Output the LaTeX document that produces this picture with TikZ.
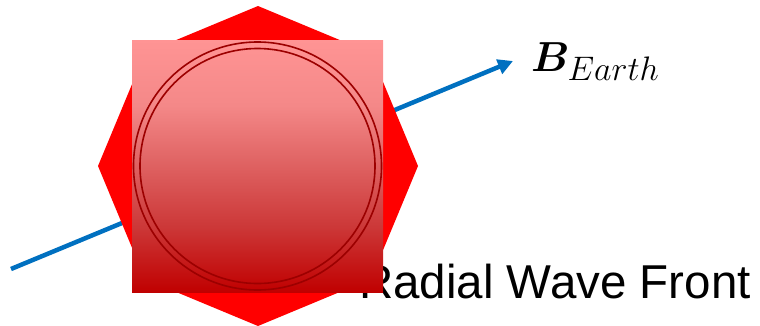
\RequirePackage{fix-cm}
\documentclass[tikz,border=0pt]{standalone}
\usepackage{amsmath,bm}
\usepackage{fontspec}
\newfontfamily\arialfont{Liberation Sans}
\DeclareMathSizes{42}{42}{34}{28}
\usetikzlibrary{arrows.meta}
\definecolor{arrowblue}{HTML}{0070C0}
\definecolor{octred}{HTML}{FF0000}
\definecolor{sqtop}{HTML}{FF9494}
\definecolor{sqa}{HTML}{F48888}
\definecolor{sqmid}{HTML}{E06464}
\definecolor{sqb}{HTML}{CC3838}
\definecolor{sqbot}{HTML}{C00000}
\definecolor{circdark}{HTML}{9C0000}
\pgfdeclareverticalshading{sqgrad}{100bp}{color(0bp)=(sqbot); color(25bp)=(sqbot); color(38bp)=(sqb); color(51bp)=(sqmid); color(62bp)=(sqa); color(75bp)=(sqtop); color(100bp)=(sqtop)}
\begin{document}
\begin{tikzpicture}[x=1pt,y=-1pt,
  fieldarrow/.style={arrowblue, line width=4.5pt, -{Triangle[length=15pt,width=15pt]}},
  ring/.style={circdark, line width=1.6pt},
  wavelabel/.style={anchor=base west, inner sep=0pt, font=\arialfont\fontsize{47.5}{56}\selectfont},
  fieldlabel/.style={anchor=base west, inner sep=0pt, font=\fontsize{42}{50}\selectfont}]
\useasboundingbox (0,0) rectangle (760,325);
\coordinate (arrS) at (11,269);
\coordinate (arrE) at (513,61);
\draw[fieldarrow] (arrS) -- (arrE);
\fill[octred] (258,6) -- (371,53) -- (418,166) -- (371,279) -- (258,326) -- (145,279) -- (98,166) -- (145,53) -- cycle;
\node[wavelabel] (wave) at (359,298) {Radial Wave Front};
\shade[shading=sqgrad] (132,40) rectangle (383,292);
\coordinate (c) at (257.5,166);
\draw[ring] (c) circle (124);
\draw[ring] (c) circle (117.5);
\node[fieldlabel] (bearth) at (531,71) {$\bm{B}_{Earth}$};
\end{tikzpicture}
\end{document}
